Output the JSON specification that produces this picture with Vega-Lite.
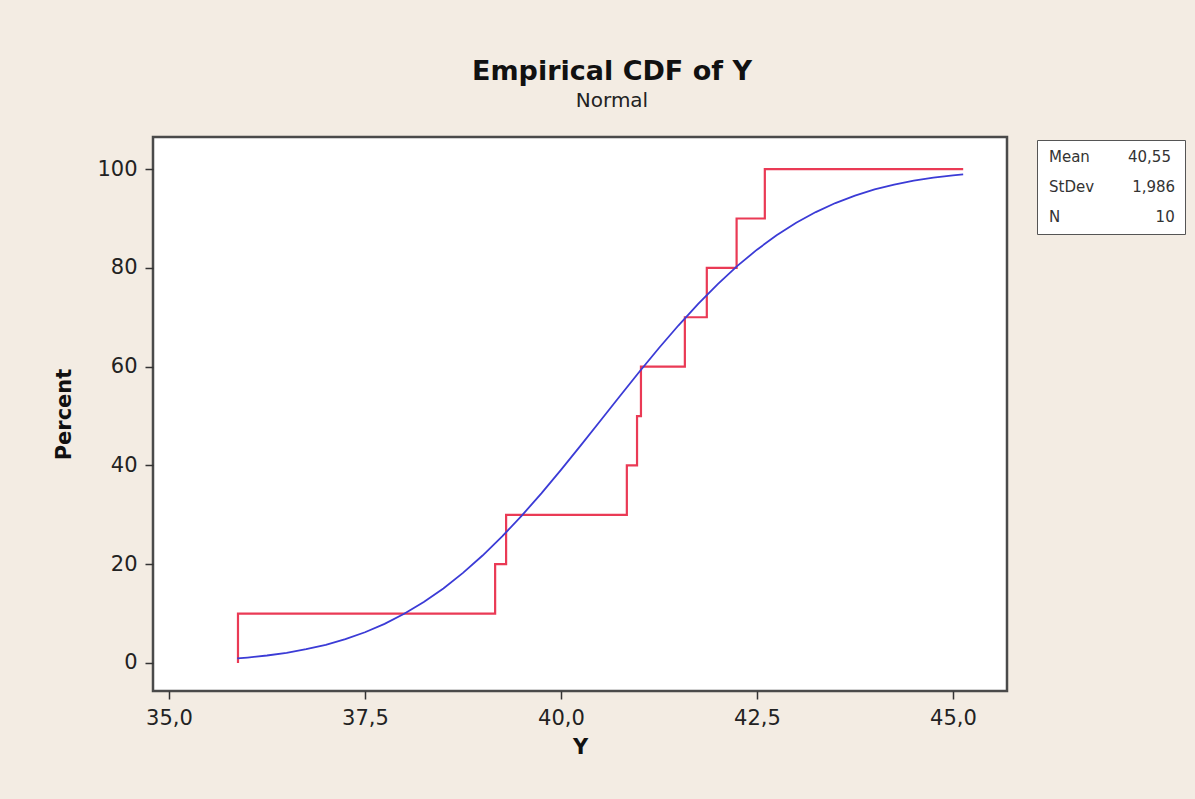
{
  "$schema": "https://vega.github.io/schema/vega-lite/v6.json",
  "width": 854,
  "height": 554,
  "autosize": {"type": "none"},
  "padding": {"left": 153, "top": 137, "right": 188, "bottom": 108},
  "background": "#F3ECE3",
  "view": {"fill": "#FFFFFF", "fillOpacity": 1, "stroke": "#4a4a4a", "strokeWidth": 2.5},
  "title": {
    "text": "Empirical CDF of Y",
    "subtitle": "Normal",
    "anchor": "middle",
    "frame": "group",
    "dx": 32,
    "offset": 25,
    "font": "DejaVu Sans",
    "fontSize": 27,
    "fontWeight": "bold",
    "color": "#111",
    "subtitleFont": "DejaVu Sans",
    "subtitleFontSize": 20,
    "subtitleColor": "#222",
    "subtitlePadding": 5
  },
  "datasets": {
    "ecdf": [
      {"y": 35.88, "pct": 0},
      {"y": 35.88, "pct": 10},
      {"y": 39.16, "pct": 20},
      {"y": 39.30, "pct": 30},
      {"y": 40.84, "pct": 40},
      {"y": 40.97, "pct": 50},
      {"y": 41.02, "pct": 60},
      {"y": 41.58, "pct": 70},
      {"y": 41.86, "pct": 80},
      {"y": 42.24, "pct": 90},
      {"y": 42.60, "pct": 100},
      {"y": 45.13, "pct": 100}
    ],
    "normal": [
      {"y": 35.87, "pct": 0.92},
      {"y": 36.0, "pct": 1.10},
      {"y": 36.25, "pct": 1.52},
      {"y": 36.5, "pct": 2.07},
      {"y": 36.75, "pct": 2.79},
      {"y": 37.0, "pct": 3.69},
      {"y": 37.25, "pct": 4.83},
      {"y": 37.5, "pct": 6.23},
      {"y": 37.75, "pct": 7.93},
      {"y": 38.0, "pct": 9.96},
      {"y": 38.25, "pct": 12.34},
      {"y": 38.5, "pct": 15.10},
      {"y": 38.75, "pct": 18.24},
      {"y": 39.0, "pct": 21.76},
      {"y": 39.25, "pct": 25.64},
      {"y": 39.5, "pct": 29.85},
      {"y": 39.75, "pct": 34.35},
      {"y": 40.0, "pct": 39.09},
      {"y": 40.25, "pct": 44.00},
      {"y": 40.5, "pct": 49.00},
      {"y": 40.75, "pct": 54.01},
      {"y": 41.0, "pct": 58.96},
      {"y": 41.25, "pct": 63.78},
      {"y": 41.5, "pct": 68.38},
      {"y": 41.75, "pct": 72.71},
      {"y": 42.0, "pct": 76.73},
      {"y": 42.25, "pct": 80.40},
      {"y": 42.5, "pct": 83.69},
      {"y": 42.75, "pct": 86.60},
      {"y": 43.0, "pct": 89.13},
      {"y": 43.25, "pct": 91.30},
      {"y": 43.5, "pct": 93.13},
      {"y": 43.75, "pct": 94.64},
      {"y": 44.0, "pct": 95.88},
      {"y": 44.25, "pct": 96.88},
      {"y": 44.5, "pct": 97.67},
      {"y": 44.75, "pct": 98.28},
      {"y": 45.0, "pct": 98.75},
      {"y": 45.13, "pct": 98.94}
    ],
    "stats": [
      {"entry": "Mean 40,55"},
      {"entry": "StDev 1,986"},
      {"entry": "N 10"}
    ]
  },
  "config": {
    "view": {"stroke": "#4a4a4a", "strokeWidth": 2.5, "fill": "#FFFFFF"},
    "axis": {
      "domain": false,
      "grid": false,
      "tickColor": "#333",
      "tickWidth": 1.5,
      "tickSize": 8,
      "labelFont": "DejaVu Sans",
      "labelFontSize": 21,
      "labelColor": "#222",
      "titleFont": "DejaVu Sans",
      "titleFontSize": 21,
      "titleFontWeight": "bold",
      "titleColor": "#111"
    }
  },
  "layer": [
    {
      "data": {"name": "ecdf"},
      "mark": {"type": "line", "interpolate": "step-after", "color": "#EA3A55", "strokeWidth": 2.2},
      "encoding": {
        "x": {
          "field": "y", "type": "quantitative",
          "scale": {"domain": [34.796, 45.689], "nice": false, "zero": false},
          "axis": {
            "title": "Y",
            "values": [35, 37.5, 40, 42.5, 45],
            "labelExpr": "replace(format(datum.value, '.1f'), '.', ',')",
            "labelPadding": 8,
            "titlePadding": 8
          }
        },
        "y": {
          "field": "pct", "type": "quantitative",
          "scale": {"domain": [-5.67, 106.5], "nice": false, "zero": false},
          "axis": {
            "title": "Percent",
            "values": [0, 20, 40, 60, 80, 100],
            "format": "d",
            "labelPadding": 8,
            "titlePadding": 22
          }
        }
      }
    },
    {
      "data": {"name": "normal"},
      "mark": {"type": "line", "color": "#3B3BD6", "strokeWidth": 1.8},
      "encoding": {
        "x": {"field": "y", "type": "quantitative"},
        "y": {"field": "pct", "type": "quantitative"}
      }
    },
    {
      "data": {"name": "stats"},
      "mark": {"type": "point", "opacity": 0},
      "encoding": {
        "color": {
          "field": "entry", "type": "nominal", "sort": null,
          "scale": {"range": ["#000", "#000", "#000"]},
          "legend": {
            "orient": "none",
            "legendX": 884,
            "legendY": 3,
            "title": null,
            "strokeColor": "#555",
            "fillColor": "#FFFFFF",
            "padding": 9,
            "symbolSize": 0,
            "symbolStrokeWidth": 0,
            "symbolOpacity": 0,
            "labelOffset": -12,
            "labelFont": "DejaVu Sans",
            "labelFontSize": 15,
            "labelColor": "#333",
            "labelLimit": 400,
            "rowPadding": 14,
            "labelExpr": "replace(datum.label, ' ', indexof(datum.label, 'N ') == 0 ? '\u00a0\u00a0\u00a0\u00a0\u00a0\u00a0\u00a0\u00a0\u00a0\u00a0\u00a0\u00a0\u00a0\u00a0\u00a0\u00a0\u00a0\u00a0\u00a0\u00a0' : '\u00a0\u00a0\u00a0\u00a0\u00a0\u00a0\u00a0\u00a0')"
          }
        }
      }
    }
  ]
}
